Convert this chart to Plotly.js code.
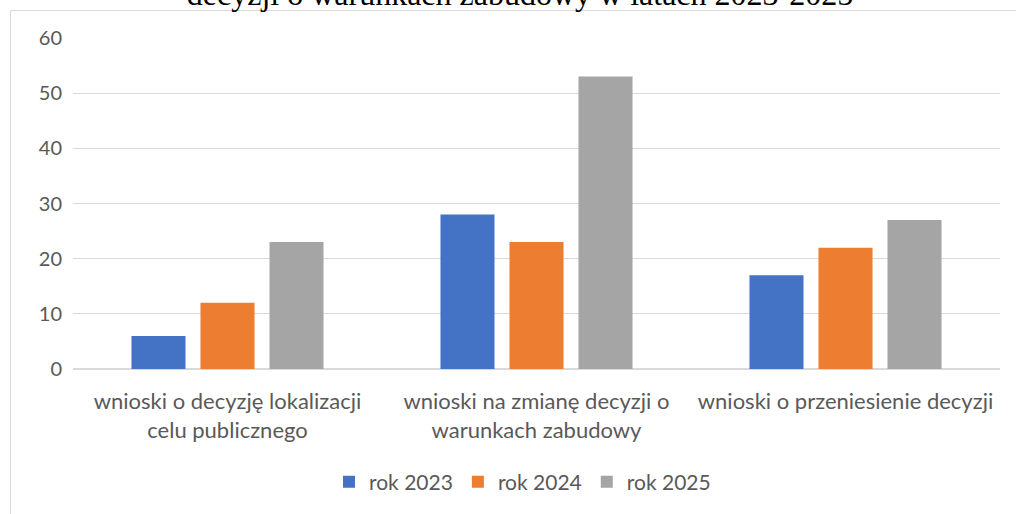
<!DOCTYPE html>
<html>
<head>
<meta charset="utf-8">
<script src="https://cdn.plot.ly/plotly-3.0.1.min.js"></script>
<style>
html,body{margin:0;padding:0;background:#fff;overflow:hidden;}
#chart{width:1016px;height:514px;}
</style>
</head>
<body>
<div id="chart"></div>
<script>
const categories = [
  "wnioski o decyzję lokalizacji<br>celu publicznego",
  "wnioski na zmianę decyzji o<br>warunkach zabudowy",
  "wnioski o przeniesienie decyzji"
];
const seriesNames = ["rok 2023", "rok 2024", "rok 2025"];
const values2023 = [6, 28, 17];
const values2024 = [12, 23, 22];
const values2025 = [23, 53, 27];
const seriesColors = ["#4472C4", "#ED7D31", "#A5A5A5"];
const titleText = "decyzji o warunkach zabudowy w latach 2023-2025";

const font = "Lato, 'Open Sans', sans-serif";
const txt = "#595959";
const allValues = [values2023, values2024, values2025];

const traces = allValues.map((v, i) => ({
  type: "bar",
  name: seriesNames[i],
  x: categories,
  y: v,
  marker: {color: seriesColors[i]},
  hoverinfo: "none"
}));

const W = 1016, H = 514;
const mL = 73, mR = 16, mT = 38, mB = 145;
const pw = W - mL - mR, ph = H - mT - mB;
const px = x => (x - mL) / pw;
const py = y => (H - mB - y) / ph;

const layout = {
  width: W, height: H,
  margin: {l: mL, r: mR, t: mT, b: mB, pad: 0},
  paper_bgcolor: "#fff",
  plot_bgcolor: "#fff",
  barmode: "group",
  bargap: 0.33,
  bargroupgap: 0.217,
  showlegend: true,
  title: {
    text: titleText,
    font: {family: "'Liberation Serif', 'Times New Roman', serif", size: 32, color: "#000", weight: "normal"},
    x: 0.5 + 12 / W, xanchor: "center", xref: "container",
    y: 1 - 5 / H, yanchor: "bottom", yref: "container"
  },
  xaxis: {
    type: "category",
    range: [-0.5, 2.5],
    showgrid: false,
    showline: false,
    zeroline: false,
    ticks: "",
    ticklabelstandoff: 17,
    tickfont: {family: font, size: 22, color: txt},
    fixedrange: true
  },
  yaxis: {
    range: [0, 60],
    dtick: 10,
    showgrid: true,
    gridcolor: "#d9d9d9",
    gridwidth: 1,
    zeroline: true,
    zerolinecolor: "#d9d9d9",
    zerolinewidth: 1.5,
    showline: false,
    ticks: "",
    ticklabelstandoff: 10,
    tickfont: {family: font, size: 20, color: txt},
    fixedrange: true
  },
  legend: {
    orientation: "h",
    x: 0.5 - 14 / pw, xanchor: "center",
    y: py(482), yanchor: "middle",
    font: {family: font, size: 21, color: txt},
    itemwidth: 30,
    traceorder: "normal"
  },
  shapes: [{
    type: "path",
    xref: "paper", yref: "paper",
    path: `M ${px(10.5)} ${py(520)} L ${px(10.5)} ${py(10.5)} L ${px(1030)} ${py(10.5)}`,
    line: {color: "#d9d9d9", width: 1}
  }]
};

Plotly.newPlot("chart", traces, layout, {displayModeBar: false, staticPlot: true});
</script>
</body>
</html>
